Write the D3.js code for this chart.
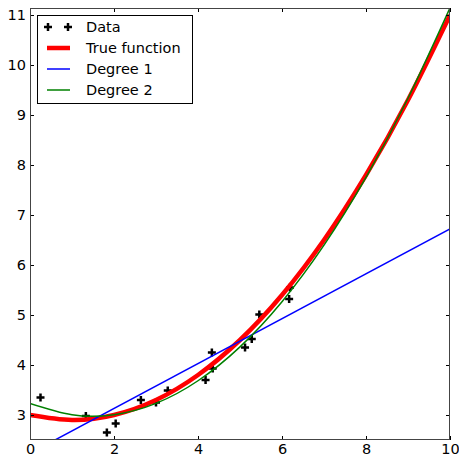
<!DOCTYPE html>
<html>
<head>
<meta charset="utf-8">
<script src="https://cdn.jsdelivr.net/npm/d3@7/dist/d3.min.js"></script>
<style>
  html, body { margin: 0; padding: 0; background: #fff; }
  svg { display: block; }
  text { font-family: "DejaVu Sans", sans-serif; fill: #000; }
</style>
</head>
<body>
<svg id="chart" width="459" height="455"></svg>
<script>
// Noisy samples
const dataX = [0.25, 1.33, 1.83, 2.04, 2.64, 3.00, 3.28, 4.18, 4.35, 4.33, 5.12, 5.28, 5.46, 6.17, 6.19];
const dataY = [3.35, 2.98, 2.65, 2.83, 3.30, 3.25, 3.49, 3.70, 3.93, 4.25, 4.35, 4.52, 5.01, 5.32, 5.55];

// Curves, sampled at x = 0..10
const curveX    = [0, 1, 2, 3, 4, 5, 6, 7, 8, 9, 10];
const trueY     = [3.0, 2.9, 3.0, 3.3, 3.8, 4.5, 5.4, 6.5, 7.8, 9.3, 11.0];
const degree2Y  = [3.233, 3.007, 3.007, 3.233, 3.685, 4.363, 5.267, 6.397, 7.753, 9.335, 11.143];

// Straight-line fit, two end points
const degree1X = [0, 10];
const degree1Y = [2.233, 6.72];

// Axis ticks
const xTicks = [0, 2, 4, 6, 8, 10];
const yTicks = [3, 4, 5, 6, 7, 8, 9, 10, 11];

// Legend entries
const legendLabels = ["Data", "True function", "Degree 1", "Degree 2"];
const legendColors = ["#000000", "#ff0000", "#0000ff", "#008000"];
const legendWidths = [0, 4.5, 1.5, 1.5];

const svg = d3.select("#chart");
const plotLeft = 30, plotRight = 450, plotTop = 8, plotBottom = 440;

const x = d3.scaleLinear().domain([0, 10]).range([plotLeft, plotRight]);
const y = d3.scaleLinear().domain([2.5, 11.14]).range([plotBottom, plotTop]);

svg.append("defs").append("clipPath").attr("id", "plotClip")
  .append("rect").attr("x", plotLeft).attr("y", plotTop)
  .attr("width", plotRight - plotLeft).attr("height", plotBottom - plotTop);

const plot = svg.append("g").attr("clip-path", "url(#plotClip)");

// plus-sign marker
function plusPath(cx, cy, s) {
  return `M${cx - s},${cy}H${cx + s}M${cx},${cy - s}V${cy + s}`;
}

// samples first, lines on top
plot.append("g").selectAll("path")
  .data(d3.range(dataX.length))
  .join("path")
  .attr("d", i => plusPath(x(dataX[i]), y(dataY[i]), 4))
  .attr("stroke", "#000").attr("stroke-width", 2.5).attr("fill", "none");

const line = d3.line().curve(d3.curveNatural);

plot.append("path")
  .attr("d", line(curveX.map((v, i) => [x(v), y(trueY[i])])))
  .attr("fill", "none").attr("stroke", legendColors[1]).attr("stroke-width", legendWidths[1]);

plot.append("path")
  .attr("d", d3.line()(degree1X.map((v, i) => [x(v), y(degree1Y[i])])))
  .attr("fill", "none").attr("stroke", legendColors[2]).attr("stroke-width", legendWidths[2]);

plot.append("path")
  .attr("d", line(curveX.map((v, i) => [x(v), y(degree2Y[i])])))
  .attr("fill", "none").attr("stroke", legendColors[3]).attr("stroke-width", legendWidths[3]);

// Axes with inward ticks on all four sides
const fontSize = "14.5px";
function styleAxis(g) {
  g.select(".domain").remove();
  g.selectAll(".tick line").attr("stroke", "#000").attr("stroke-width", 1);
  g.selectAll(".tick text").attr("font-size", fontSize)
    .attr("font-family", "DejaVu Sans, sans-serif").attr("fill", "#000");
}

svg.append("g").attr("transform", `translate(0,${plotBottom})`)
  .call(d3.axisBottom(x).tickValues(xTicks).tickSize(-4).tickPadding(4).tickFormat(d3.format("d")))
  .call(styleAxis);
svg.append("g").attr("transform", `translate(0,${plotTop})`)
  .call(d3.axisTop(x).tickValues(xTicks).tickSize(-4).tickFormat(""))
  .call(styleAxis);
svg.append("g").attr("transform", `translate(${plotLeft},0)`)
  .call(d3.axisLeft(y).tickValues(yTicks).tickSize(-4).tickPadding(4).tickFormat(d3.format("d")))
  .call(styleAxis);
svg.append("g").attr("transform", `translate(${plotRight},0)`)
  .call(d3.axisRight(y).tickValues(yTicks).tickSize(-4).tickFormat(""))
  .call(styleAxis);

// Frame
svg.append("rect")
  .attr("x", plotLeft + 0.5).attr("y", plotTop + 0.5)
  .attr("width", plotRight - plotLeft - 1).attr("height", plotBottom - plotTop - 1)
  .attr("fill", "none").attr("stroke", "#444").attr("stroke-width", 1);

// Legend
const legend = svg.append("g");
legend.append("rect")
  .attr("x", 37.5).attr("y", 15.5).attr("width", 155).attr("height", 88)
  .attr("fill", "#fff").attr("stroke", "#000").attr("stroke-width", 1);

legendLabels.forEach((label, i) => {
  const cy = 27 + i * 21;
  if (i === 0) {
    legend.append("path")
      .attr("d", plusPath(48, cy, 4) + plusPath(68, cy, 4))
      .attr("stroke", "#000").attr("stroke-width", 2.5).attr("fill", "none");
  } else {
    legend.append("line")
      .attr("x1", 47).attr("x2", 70).attr("y1", cy).attr("y2", cy)
      .attr("stroke", legendColors[i]).attr("stroke-width", legendWidths[i]);
  }
  legend.append("text")
    .attr("x", 86).attr("y", cy + 5.3)
    .attr("font-size", fontSize)
    .text(label);
});
</script>
</body>
</html>
